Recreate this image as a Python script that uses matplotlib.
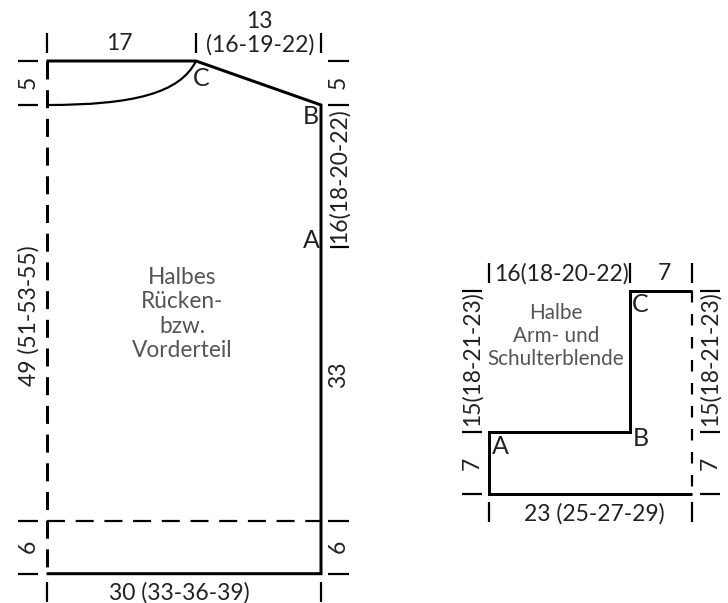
import matplotlib
matplotlib.use("Agg")
import matplotlib.pyplot as plt
from matplotlib.path import Path
from matplotlib.patches import PathPatch

plt.rcParams['font.family'] = ['Lato', 'DejaVu Sans']
plt.rcParams['lines.scale_dashes'] = False

# --- drawing values, in reference pixels ---
body_solid_x = [46.5, 196, 321, 321, 46.5]
body_solid_y = [61, 61, 105, 573.7, 573.7]
body_fold_x = [46.5, 46.5]
body_fold_y = [61, 573.7]
body_hem_x = [46.5, 321]
body_hem_y = [520.7, 520.7]
neck_x = [46.5, 133, 180, 196]
neck_y = [105, 105, 93.3, 61]

band_solid_x = [692, 630, 630, 489, 489, 692]
band_solid_y = [290.7, 290.7, 432, 432, 494, 494]
band_fold_x = [692, 692]
band_fold_y = [290.7, 494]

# vertical ticks: x, y0, y1
v_ticks = [(46.5, 33, 53), (196, 33, 53), (321, 33, 53), (46.5, 582, 602), (321, 582, 602),
           (489, 263, 283), (630, 263, 283), (692, 263, 283), (489, 502, 522), (692, 502, 522)]
# horizontal ticks: y, x0, x1
h_ticks = [(61, 18, 38), (105, 18, 38), (520.7, 18, 38), (573.7, 18, 38),
           (61, 328, 349), (105, 328, 349), (247, 330, 349), (520.7, 328, 349), (573.7, 328, 349),
           (290.7, 462, 482), (432, 462, 482), (494, 462, 482),
           (290.7, 700, 720), (432, 700, 720), (494, 700, 720)]

# labels: text, x, y, rotation
labels = [("17", 119, 44, 0), ("13", 259, 21, 0), ("(16-19-22)", 260, 45, 0),
          ("5", 28.5, 82, 90), ("5", 338.5, 82, 90), ("16(18-20-22)", 338.5, 176, 90),
          ("49 (51-53-55)", 28.5, 316, 90), ("33", 338.5, 375, 90),
          ("6", 28.5, 546, 90), ("6", 338.5, 546, 90), ("30 (33-36-39)", 179, 593, 0),
          ("16(18-20-22)", 561, 274, 0), ("7", 664, 274, 0),
          ("15(18-21-23)", 472, 359, 90), ("15(18-21-23)", 710, 359, 90),
          ("7", 472, 463, 90), ("7", 710, 463, 90), ("23 (25-27-29)", 594, 514, 0)]
points = [("C", 201, 79), ("B", 311, 116), ("A", 311, 240),
          ("C", 640, 305), ("B", 641, 438), ("A", 500, 446)]
notes = [("Halbes\nRücken-\nbzw.\nVorderteil", 182, 314, 16.3),
         ("Halbe\nArm- und\nSchulterblende", 556, 336, 14.9)]

LW = 3 * 0.72
TW = 2.2 * 0.72
fig = plt.figure(figsize=(7.28, 6.03), dpi=100)
ax = fig.add_axes([0, 0, 1, 1])
ax.set_xlim(0, 728)
ax.set_ylim(603, 0)
ax.axis("off")

ax.plot(body_solid_x, body_solid_y, color="k", lw=LW, solid_joinstyle="miter", solid_capstyle="butt")
ax.plot(band_solid_x, band_solid_y, color="k", lw=LW, solid_joinstyle="miter", solid_capstyle="butt")
ax.plot(body_fold_x, body_fold_y, color="k", lw=LW, dashes=(18 * .72, 10.7 * .72), dash_capstyle="butt")
ax.plot(body_hem_x, body_hem_y, color="k", lw=TW, dashes=(18 * .72, 10.7 * .72), dash_capstyle="butt")
ax.plot(band_fold_x, band_fold_y, color="k", lw=TW, dashes=(11.5 * .72, 11.5 * .72), dash_capstyle="butt")
codes = [Path.MOVETO, Path.CURVE4, Path.CURVE4, Path.CURVE4]
ax.add_patch(PathPatch(Path(list(zip(neck_x, neck_y)), codes), fc="none", ec="k", lw=TW))

for x, y0, y1 in v_ticks:
    ax.plot([x, x], [y0, y1], color="k", lw=TW, solid_capstyle="butt")
for y, x0, x1 in h_ticks:
    ax.plot([x0, x1], [y, y], color="k", lw=TW, solid_capstyle="butt")

for s, x, y, r in labels:
    ax.text(x, y, s, rotation=r, ha="center", va="center", fontsize=16.5, color="#222222")
for s, x, y in points:
    ax.text(x, y, s, ha="center", va="center", fontsize=18, color="#222222")
for s, x, y, fs in notes:
    ax.text(x, y, s, ha="center", va="center", fontsize=fs, color="#555555", linespacing=1.2,
            multialignment="center")

fig.savefig("out.png", dpi=100)
